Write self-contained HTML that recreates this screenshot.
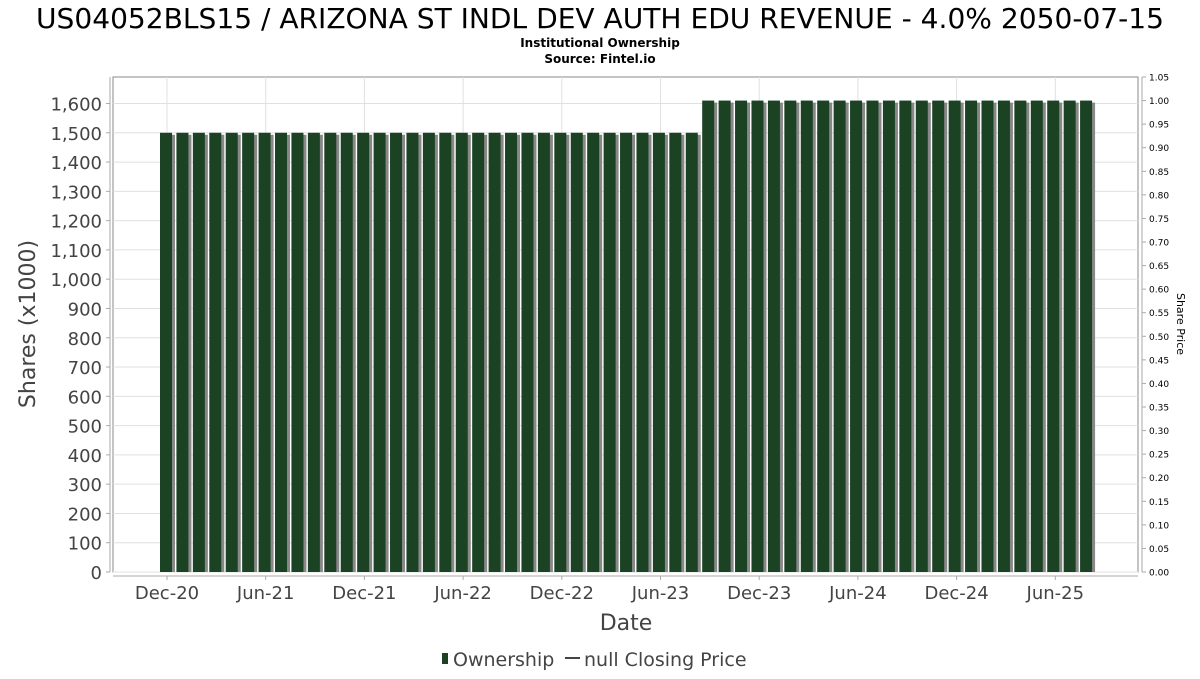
<!DOCTYPE html>
<html><head><meta charset="utf-8"><style>
body{margin:0;background:#fff;width:1200px;height:675px;overflow:hidden;font-family:"DejaVu Sans","Liberation Sans",sans-serif;}
svg text{font-family:"DejaVu Sans","Liberation Sans",sans-serif;}
</style></head><body>
<svg id="chart" width="1200" height="675" xmlns="http://www.w3.org/2000/svg">
<text x="600" y="28" text-anchor="middle" font-size="28" fill="#000" textLength="1128" lengthAdjust="spacingAndGlyphs">US04052BLS15 / ARIZONA ST INDL DEV AUTH EDU REVENUE - 4.0% 2050-07-15</text>
<text x="600" y="47" text-anchor="middle" font-size="12" font-weight="bold" fill="#000">Institutional Ownership</text>
<text x="600" y="63" text-anchor="middle" font-size="12" font-weight="bold" fill="#000">Source: Fintel.io</text>
<rect x="113" y="77" width="1025" height="495" fill="#fff" stroke="#888" stroke-width="1"/>
<g id="grid"></g><g id="bars"></g><g id="axes"></g>
<text transform="translate(35,324) rotate(-90)" text-anchor="middle" font-size="22" fill="#444">Shares (x1000)</text>
<text transform="translate(1177,324) rotate(90)" text-anchor="middle" font-size="11" fill="#000">Share Price</text>
<text x="626" y="630" text-anchor="middle" font-size="22" fill="#444">Date</text>
<g>
<rect x="442" y="653" width="6" height="11" fill="#1a4223"/>
<text x="453" y="666" font-size="19" fill="#444">Ownership</text>
<line x1="565" y1="658" x2="580" y2="658" stroke="#444" stroke-width="2"/>
<text x="584" y="666" font-size="19" fill="#444">null Closing Price</text>
</g>
</svg>
<script>
const barValues = [1500,1500,1500,1500,1500,1500,1500,1500,1500,1500,1500,1500,1500,1500,1500,1500,1500,1500,1500,1500,1500,1500,1500,1500,1500,1500,1500,1500,1500,1500,1500,1500,1500,
1610,1610,1610,1610,1610,1610,1610,1610,1610,1610,1610,1610,1610,1610,1610,1610,1610,1610,1610,1610,1610,1610,1610,1610];
const yTicks = [0,100,200,300,400,500,600,700,800,900,1000,1100,1200,1300,1400,1500,1600];
const y2Ticks = [0,0.05,0.10,0.15,0.20,0.25,0.30,0.35,0.40,0.45,0.50,0.55,0.60,0.65,0.70,0.75,0.80,0.85,0.90,0.95,1.00,1.05];
const xLabels = ["Dec-20","Jun-21","Dec-21","Jun-22","Dec-22","Jun-23","Dec-23","Jun-24","Dec-24","Jun-25"];

const NS="http://www.w3.org/2000/svg";
const plotTop=77,plotBottom=572,plotLeft=113,plotRight=1138;
const yScale=v=>plotBottom-v*(plotBottom-103.5)/1600;
const y2Scale=v=>plotBottom-v*(plotBottom-plotTop)/1.05;
const barX=i=>160+i*16.43;
const labelX=i=>167+i*98.7;
function mk(tag,attrs,parent){const e=document.createElementNS(NS,tag);for(const k in attrs)e.setAttribute(k,attrs[k]);parent.appendChild(e);return e;}
const gridG=document.getElementById('grid'),barsG=document.getElementById('bars'),axesG=document.getElementById('axes');
yTicks.forEach(v=>{const y=yScale(v);
 const g=mk('line',{x1:plotLeft,x2:plotRight,y1:y,y2:y,stroke:'#e0e0e0'},gridG);
 
 
 const t=mk('text',{x:102,y:y+7,'text-anchor':'end','font-size':18,fill:'#444'},axesG);
 
 
 t.textContent=v.toLocaleString('en-US');
 mk('line',{x1:106,x2:110,y1:y,y2:y,stroke:'#aaa'},axesG);
});
xLabels.forEach((s,i)=>{const x=labelX(i);
 const g=mk('line',{x1:x,x2:x,y1:plotTop,y2:plotBottom,stroke:'#e0e0e0'},gridG);
 
 
 mk('line',{x1:x,x2:x,y1:576,y2:580,stroke:'#aaa'},axesG);
 const t=mk('text',{x:x,y:599,'text-anchor':'middle','font-size':18,fill:'#444'},axesG);
 
 
 t.textContent=s;
});
y2Ticks.forEach(v=>{const y=y2Scale(v);
 mk('line',{x1:1142,x2:1146,y1:y,y2:y,stroke:'#aaa'},axesG);
 const t=mk('text',{x:1149,y:y+3.5,'font-size':9,fill:'#000'},axesG);
 
 
 t.textContent=v.toFixed(2);
});
mk('line',{x1:113,x2:1138,y1:576,y2:576,stroke:'#aaa'},axesG);
mk('line',{x1:110,x2:110,y1:plotTop,y2:plotBottom,stroke:'#aaa'},axesG);
mk('line',{x1:1142,x2:1142,y1:plotTop,y2:plotBottom,stroke:'#aaa'},axesG);
barValues.forEach((v,i)=>{const x=barX(i),y=yScale(v);
 const s=mk('rect',{x:x+3,y:y+2,width:12,height:plotBottom-y-2,fill:'#888'},barsG);
 
 
 const b=mk('rect',{x:x,y:y,width:12,height:plotBottom-y,fill:'#1a4223'},barsG);
 
 
});
</script>
</body></html>
